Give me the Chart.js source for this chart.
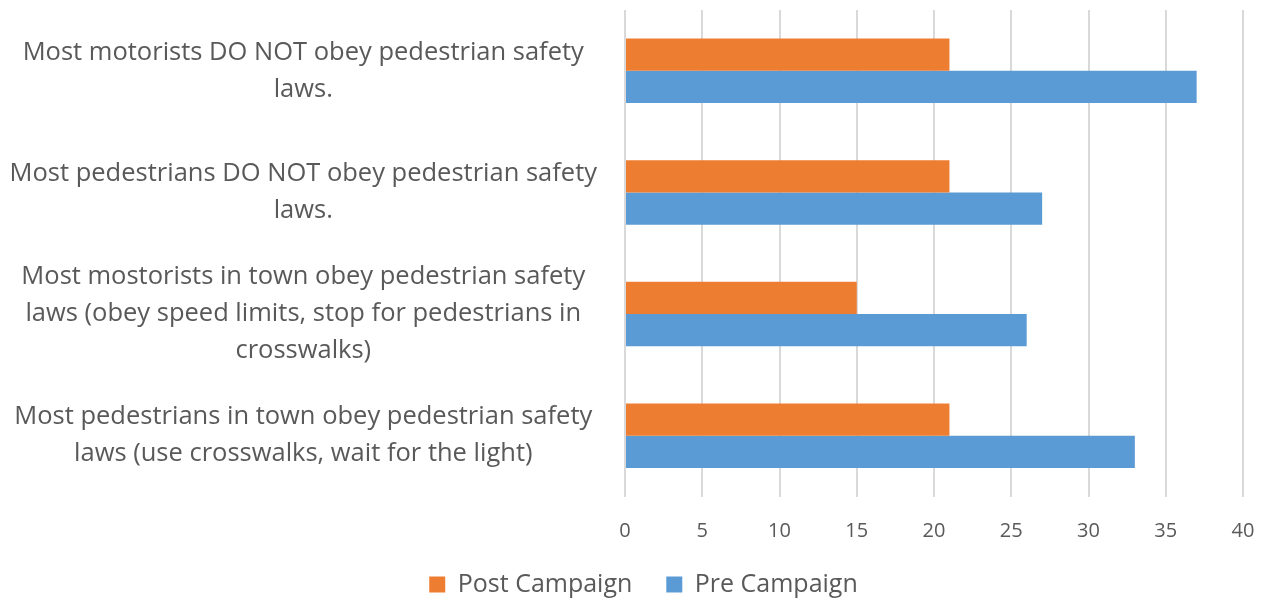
<!DOCTYPE html>
<html>
<head>
<meta charset="utf-8">
<script src="https://cdn.jsdelivr.net/npm/chart.js@4/dist/chart.umd.min.js"></script>
<style>
    body { margin: 0; background: #fff; }
    #wrap { width: 1268px; height: 599px; }
</style>
</head>
<body>
<div id="wrap"><canvas id="surveyChart" width="1268" height="599"></canvas></div>
<script>
    // Kategorie (etykiety osi Y, zawinięte jak w oryginale)
    const categories = [
        ['Most motorists DO NOT obey pedestrian safety', 'laws.'],
        ['Most pedestrians DO NOT obey pedestrian safety', 'laws.'],
        ['Most mostorists in town obey pedestrian safety', 'laws (obey speed limits, stop for pedestrians in', 'crosswalks)'],
        ['Most pedestrians in town obey pedestrian safety', 'laws (use crosswalks, wait for the light)']
    ];
    const seriesNames = ['Post Campaign', 'Pre Campaign'];
    const postCampaign = [21, 21, 15, 21];
    const preCampaign = [37, 27, 26, 33];
    const xTicks = [0, 5, 10, 15, 20, 25, 30, 35, 40];

    const textColor = '#595959';
    const fontFamily = '"Open Sans", sans-serif';

    let ctx = document.getElementById('surveyChart').getContext('2d');

    // legenda w oryginale jest lekko przesunięta w prawo
    const legendShift = {
        id: 'legendShift',
        afterLayout: function (chart) {
            if (chart.legend) {
                chart.legend.left += 22;
                chart.legend.right += 22;
            }
        }
    };

    new Chart(ctx, {
        type: 'bar',
        data: {
            labels: categories,
            datasets: [
                {
                    label: seriesNames[0],
                    data: postCampaign,
                    backgroundColor: '#ED7D31',
                    borderWidth: 0
                },
                {
                    label: seriesNames[1],
                    data: preCampaign,
                    backgroundColor: '#5B9BD5',
                    borderWidth: 0
                }
            ]
        },
        plugins: [legendShift],
        options: {
            indexAxis: 'y',
            responsive: false,
            animation: false,
            categoryPercentage: 0.53,
            barPercentage: 1,
            layout: {
                padding: { top: 10, right: 25, left: 0, bottom: -8 }
            },
            scales: {
                x: {
                    min: xTicks[0],
                    max: xTicks[xTicks.length - 1],
                    afterBuildTicks: function (axis) {
                        axis.ticks = xTicks.map(v => ({ value: v }));
                    },
                    afterFit: function (scale) {
                        scale.paddingLeft = 0;
                        scale.paddingRight = 0;
                        scale.height = 67.5;
                    },
                    grid: {
                        color: '#d9d9d9',
                        lineWidth: 2,
                        drawTicks: false
                    },
                    border: { display: false },
                    ticks: {
                        padding: 23,
                        color: textColor,
                        font: { family: fontFamily, size: 20 }
                    }
                },
                y: {
                    grid: { display: false, drawTicks: false },
                    border: { display: false },
                    // etykiety są wewnątrz kategorii, więc bez dodatkowego marginesu góra/dół
                    afterFit: function (scale) {
                        scale.paddingTop = 0;
                        scale.paddingBottom = 0;
                        scale.width = 625;
                    },
                    ticks: {
                        autoSkip: false,
                        crossAlign: 'center',
                        padding: 28,
                        color: textColor,
                        font: { family: fontFamily, size: 25.5, lineHeight: 1.45 }
                    }
                }
            },
            plugins: {
                legend: {
                    position: 'bottom',
                    labels: {
                        boxWidth: 16,
                        boxHeight: 16,
                        padding: 8,
                        color: textColor,
                        font: { family: fontFamily, size: 25 },
                        // odstęp między pozycjami legendy (padding ustawia też wysokość)
                        generateLabels: function (chart) {
                            const items = Chart.defaults.plugins.legend.labels.generateLabels(chart);
                            items.forEach((item, i) => {
                                if (i < items.length - 1) {
                                    item.text = item.text + '    ';
                                }
                            });
                            return items;
                        }
                    }
                },
                tooltip: { enabled: false }
            }
        }
    });
</script>
</body>
</html>
